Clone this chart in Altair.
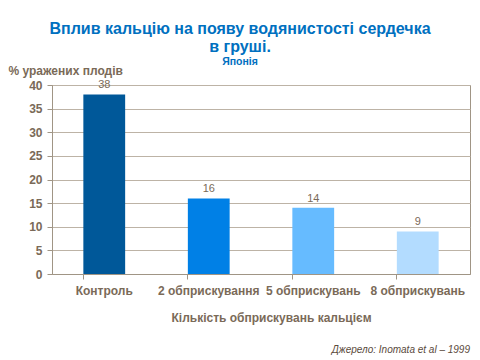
import altair as alt
import pandas as pd

categories = ["Контроль", "2 обприскування", "5 обприскувань", "8 обприскувань"]
values = [38, 16, 14, 9]
colors = ["#005899", "#0080E6", "#66BBFF", "#B3DCFF"]
y_ticks = [0, 5, 10, 15, 20, 25, 30, 35, 40]
source_text = ["Джерело: Inomata et al – 1999"]

df = pd.DataFrame({"cat": categories, "val": values, "color": colors})
TXT = "#7A6A58"
LINE = "#A09585"

x_enc = alt.X(
    "cat:N", sort=categories,
    scale=alt.Scale(paddingInner=0.6, paddingOuter=0.3),
    axis=alt.Axis(
        title="Кількість обприскувань кальцієм", labelAngle=0,
        labelFont="Liberation Sans", labelFontSize=12, labelFontWeight="bold",
        labelColor=TXT, labelPadding=6, tickSize=5, tickColor=LINE,
        domainColor=LINE, bandPosition=0, ticks=True,
        titleFont="Liberation Sans", titleFontSize=12, titleFontWeight="bold",
        titleColor=TXT, titlePadding=16, titleX=219,
    ),
)
y_enc = alt.Y(
    "val:Q", scale=alt.Scale(domain=[0, 40]),
    axis=alt.Axis(
        values=y_ticks, labelOverlap=False,
        title="% уражених плодів", titleAngle=0, titleAlign="left",
        titleBaseline="alphabetic", titleX=-44, titleY=-11,
        titleFont="Liberation Sans", titleFontSize=12, titleFontWeight="bold",
        titleColor=TXT,
        labelFont="Liberation Sans", labelFontSize=12, labelFontWeight="bold",
        labelColor=TXT, labelPadding=5, tickSize=5, tickColor=LINE,
        domainColor=LINE, gridColor="#BDB3A6",
    ),
)

base = alt.Chart(df)
bars = base.mark_bar().encode(
    x=x_enc, y=y_enc, color=alt.Color("color:N", scale=None)
)
labels = base.mark_text(
    dy=-4, baseline="bottom", font="Liberation Sans", fontSize=11, color=TXT
).encode(x=x_enc, y=y_enc, text="val:Q")

src = alt.Chart(pd.DataFrame({"t": source_text})).mark_text(
    align="right", baseline="alphabetic", font="Liberation Sans",
    fontSize=10, fontStyle="italic", color="#5A4A3C"
).encode(x=alt.value(418), y=alt.value(268), text="t:N")

chart = alt.layer(bars, labels, src).properties(
    width=418, height=189,
    autosize=alt.AutoSizeParams(type="none"),
    padding={"left": 44, "top": 77, "right": 2, "bottom": 90},
    title=alt.TitleParams(
        text=["Вплив кальцію на появу водянистості сердечка", "в груші."],
        subtitle="Японія",
        anchor="middle", dx=-21, dy=19, offset=16,
        font="Liberation Sans", fontSize=16, fontWeight="bold",
        color="#0070C0", lineHeight=18,
        subtitleFont="Liberation Sans", subtitleFontSize=10.5,
        subtitleFontWeight="bold", subtitleColor="#0070C0", subtitlePadding=2,
    ),
).configure_view(stroke=LINE, strokeWidth=1)

chart.save("out.html", embed_options={"renderer": "svg", "actions": False})
